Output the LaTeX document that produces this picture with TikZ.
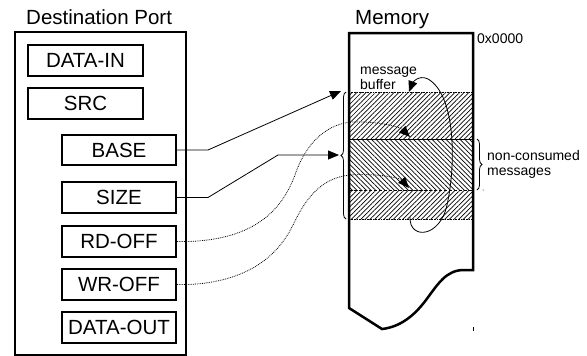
\documentclass[tikz,border=0pt]{standalone}
\usepackage{fontspec}
\setmainfont{Liberation Sans}
\usetikzlibrary{arrows.meta,patterns.meta,decorations.pathreplacing}
\begin{document}
\begin{tikzpicture}[x=1pt,y=-1pt,
  big/.style={font=\fontsize{20.5}{24}\selectfont},
  small/.style={font=\fontsize{14}{15}\selectfont},
  reg/.style={draw,line width=2pt,big,inner sep=0pt,minimum height=30pt},
  lbl/.style={anchor=base west,inner sep=0pt},
  conn/.style={line width=0.8pt,-{Triangle[length=11pt,width=9pt]}},
  dotc/.style={line width=0.8pt,densely dotted,-{Triangle[length=11pt,width=9pt]}},
  brc/.style={line width=0.8pt,decorate,decoration={brace,amplitude=5pt}},
  hatchA/.style={pattern={Lines[angle=45,distance=3.3pt,line width=0.7pt]}},
  hatchB/.style={pattern={Lines[angle=-45,distance=3.3pt,line width=0.7pt]}}]
\useasboundingbox (0,0) rectangle (587,356);
% titles
\node[lbl,big] (tport) at (26,24) {Destination Port};
\node[lbl,big] (tmem) at (355,24) {Memory};
% port box
\draw[line width=2pt] (15,32) rectangle (186,355);
\node[reg,minimum width=115pt,minimum height=31pt] (datain) at (85.5,60.5) {DATA-IN};
\node[reg,minimum width=115pt,minimum height=31pt] (src) at (85.5,103.5) {SRC};
\node[reg,minimum width=114pt] (base) at (119,150) {BASE};
\node[reg,minimum width=114pt,minimum height=31pt] (size) at (119,197.5) {SIZE};
\node[reg,minimum width=114pt,minimum height=31pt] (rdoff) at (119,241.5) {RD-OFF};
\node[reg,minimum width=114pt,minimum height=31pt] (wroff) at (119,284.5) {WR-OFF};
\node[reg,minimum width=114pt,minimum height=31pt] (dataout) at (119,327.5) {DATA-OUT};
% hatched regions
\fill[hatchA] (349,92) rectangle (473,139);
\fill[hatchB] (349,139) rectangle (473,190);
\fill[hatchA] (349,190) rectangle (473,219);
\draw[line width=0.6pt,densely dotted] (349,92) -- (473,92);
\draw[line width=0.6pt] (349,139) -- (473,139);
\draw[line width=0.6pt,densely dashed] (349,190) -- (473,190);
\draw[line width=0.6pt,densely dotted] (349,219) -- (473,219);
% memory outline
\draw[line width=2.5pt,line join=miter] (349,33) -- (473,33) -- (473,270) -- (464,270)
  .. controls (446,270) and (438,284) .. (426,300)
  .. controls (414,316) and (400,327) .. (382,329) -- (349,308) -- cycle;
\coordinate (tick) at (473,327);
\draw[line width=0.6pt] (tick) -- ++(0,4);
\coordinate (dotp) at (483,190);
\fill (dotp) circle (0.5pt);
% labels
\node[lbl,small] (addr) at (477,43) {0x0000};
\node[lbl,small] (mb1) at (360,74) {message};
\node[lbl,small] (mb2) at (360,89) {buffer};
\node[lbl,small] (nc1) at (487,160) {non-consumed};
\node[lbl,small] (nc2) at (487,175) {messages};
% braces
\draw[brc] (346,219) -- (346,92);
\draw[brc] (477,139) -- (477,190);
% connectors
\coordinate (bufTop) at (341,91);
\coordinate (brTip) at (339,155);
\coordinate (rdTip) at (410,137);
\coordinate (wrTip) at (409,188);
\coordinate (loopS) at (410,217);
\coordinate (loopE) at (409,92);
\draw[conn] (base.east) -- ++(31,0) -- (bufTop);
\draw[conn] (size.east) -- ++(31,0) -- (278,155) -- (brTip);
\draw[dotc] (rdoff.east) -- ++(12,0)
  .. controls (255,239) and (283,210) .. (296,172)
  .. controls (306,145) and (325,124) .. (352,122)
  .. controls (378,121) and (400,127) .. (rdTip);
\draw[dotc] (wroff.east) -- ++(12,0)
  .. controls (240,282) and (275,262) .. (293,225)
  .. controls (305,200) and (320,178) .. (350,175)
  .. controls (377,173) and (400,178) .. (wrTip);
\draw[conn] (loopS) .. controls (409,240) and (440,238) .. (447,205)
  .. controls (456,165) and (456,95) .. (428,79)
  .. controls (418,74) and (412,84) .. (loopE);
\end{tikzpicture}
\end{document}
